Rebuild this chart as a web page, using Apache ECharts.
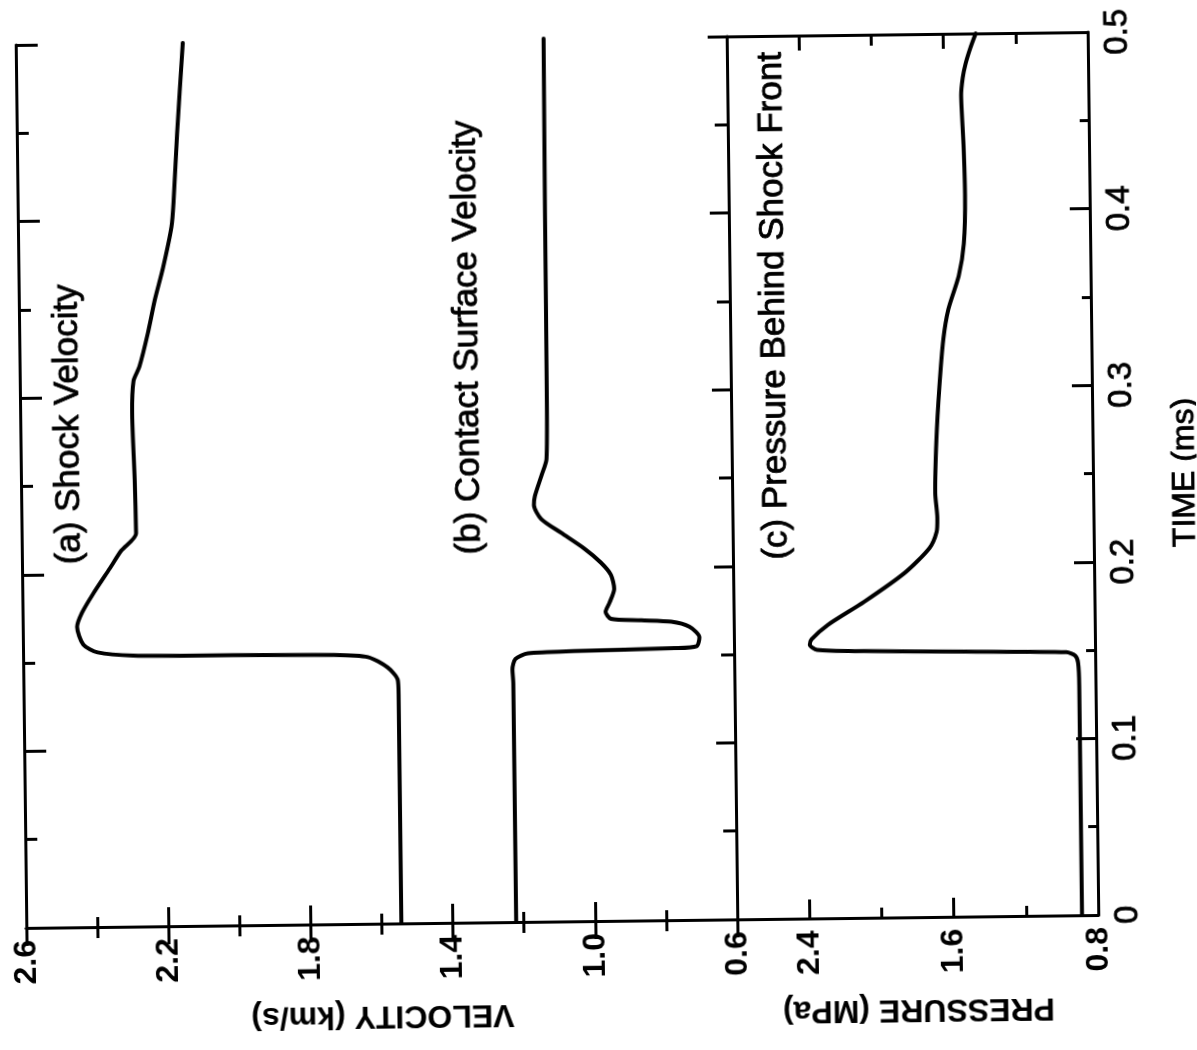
<!DOCTYPE html>
<html>
<head>
<meta charset="utf-8">
<script src="https://cdn.jsdelivr.net/npm/echarts@6/dist/echarts.min.js"></script>
<style>
  html, body { margin: 0; padding: 0; background: #fff; overflow: hidden; }
  /* the printed sheet sits a little off square */
  #chart { width: 1197px; height: 1050px; transform: rotate(-0.69deg); transform-origin: 598px 480px; }
</style>
</head>
<body>
<div id="chart"></div>
<script>
// Shock tube history: time (ms) against velocity (km/s) and pressure (MPa).
// The figure is laid out sideways: time runs up the page, values run across.

// (a) shock velocity
const shockTime = [0, 0.130, 0.138, 0.145, 0.151, 0.1525, 0.153, 0.1535, 0.1555, 0.160, 0.170, 0.178, 0.189, 0.203, 0.213, 0.2225, 0.253, 0.290, 0.309, 0.317, 0.336, 0.355, 0.373, 0.396, 0.411, 0.449, 0.500];
const shockVel  = [1.545, 1.545, 1.547, 1.575, 1.63, 1.73, 2.01, 2.29, 2.39, 2.43, 2.447, 2.433, 2.40, 2.353, 2.32, 2.278, 2.28, 2.285, 2.28, 2.263, 2.238, 2.217, 2.193, 2.168, 2.161, 2.149, 2.13];

// (b) contact surface velocity
const contactTime = [0, 0.135, 0.143, 0.149, 0.152, 0.153, 0.154, 0.155, 0.160, 0.166, 0.169, 0.170, 0.171, 0.175, 0.180, 0.188, 0.196, 0.203, 0.211, 0.220, 0.228, 0.236, 0.241, 0.253, 0.262, 0.300, 0.400, 0.500];
const contactVel  = [1.222, 1.222, 1.224, 1.215, 1.18, 1.05, 0.767, 0.705, 0.697, 0.725, 0.776, 0.86, 0.945, 0.96, 0.949, 0.935, 0.944, 0.972, 1.018, 1.082, 1.138, 1.158, 1.155, 1.135, 1.121, 1.118, 1.117, 1.115];

// (c) pressure behind the shock front
const pressTime = [0, 0.130, 0.143, 0.147, 0.149, 0.150, 0.151, 0.152, 0.155, 0.158, 0.166, 0.179, 0.195, 0.209, 0.218, 0.226, 0.240, 0.270, 0.300, 0.327, 0.344, 0.363, 0.381, 0.409, 0.437, 0.465, 0.475, 0.483, 0.492, 0.500];
const pressVal  = [0.89, 0.89, 0.895, 0.91, 0.96, 1.52, 2.08, 2.34, 2.38, 2.37, 2.28, 2.075, 1.85, 1.71, 1.67, 1.665, 1.675, 1.665, 1.645, 1.62, 1.59, 1.53, 1.50, 1.49, 1.495, 1.505, 1.495, 1.478, 1.45, 1.42];

// tick positions
const velMajor   = [0.6, 1.0, 1.4, 1.8, 2.2, 2.6];
const velMinor   = [0.8, 1.2, 1.6, 2.0, 2.4];
const pressMajor = [0.8, 1.6, 2.4];
const pressMinor = [1.2, 2.0];
const timeMajor  = [0, 0.1, 0.2, 0.3, 0.4, 0.5];
const timeMinor  = [0.05, 0.15, 0.25, 0.35, 0.45];

const zip = (vals, times) => vals.map((v, i) => [v, times[i]]);

const FONT = "'Liberation Sans', Arial, Helvetica, sans-serif";
const INK = '#000';

const frameLine = { show: true, lineStyle: { color: INK, width: 3 } };
const noLine = { show: false };

function edgeAxis(gridIndex, position, min, max, inverse, ticks, tickLen, withLine) {
  return {
    type: 'value', gridIndex, position, min, max, inverse,
    axisLine: withLine ? frameLine : noLine,
    axisTick: { show: true, inside: true, length: tickLen, customValues: ticks,
                lineStyle: { color: INK, width: 3 } },
    axisLabel: { show: false },
    splitLine: { show: false },
    minorTick: { show: false }
  };
}

function valueLabels(ticks) {
  return {
    show: true, customValues: ticks, rotate: 90, margin: 12,
    fontSize: 32, fontWeight: 'bold', fontFamily: FONT, color: INK,
    formatter: v => v.toFixed(1)
  };
}

const nameStyle = { fontSize: 32, fontWeight: 'bold', fontFamily: FONT, color: INK };

const velBottom = edgeAxis(0, 'bottom', 0.6, 2.6, true, velMajor, 19, true);
velBottom.axisLabel = valueLabels(velMajor);
Object.assign(velBottom, {
  name: 'VELOCITY (km/s)', nameLocation: 'middle', nameRotate: 180, nameGap: 76,
  nameTextStyle: nameStyle
});

const pressBottom = edgeAxis(1, 'bottom', 0.8, 2.8, true, pressMajor, 19, true);
pressBottom.axisLabel = valueLabels(pressMajor);
Object.assign(pressBottom, {
  name: 'PRESSURE (MPa)', nameLocation: 'middle', nameRotate: 180, nameGap: 76,
  nameTextStyle: nameStyle
});

const timeRight = edgeAxis(1, 'right', 0, 0.5, false, timeMajor, 20, true);
timeRight.axisLabel = {
  show: true, customValues: timeMajor, rotate: 90, margin: 13,
  fontSize: 33, fontFamily: FONT, color: INK,
  textBorderColor: INK, textBorderWidth: 0.8,
  formatter: v => (v === 0 ? '0' : v.toFixed(1))
};
Object.assign(timeRight, {
  name: 'TIME (ms)', nameLocation: 'middle', nameRotate: 90, nameGap: 76,
  nameTextStyle: { fontSize: 32, fontFamily: FONT, color: INK,
                   textBorderColor: INK, textBorderWidth: 0.8 }
});

const xAxes = [
  velBottom,                                                    // 0
  edgeAxis(0, 'bottom', 0.6, 2.6, true, velMinor, 10, false),   // 1
  edgeAxis(0, 'top', 0.6, 2.6, true, velMajor, 18, true),       // 2
  edgeAxis(0, 'top', 0.6, 2.6, true, velMinor, 11, false),      // 3
  pressBottom,                                                  // 4
  edgeAxis(1, 'bottom', 0.8, 2.8, true, pressMinor, 10, false), // 5
  edgeAxis(1, 'top', 0.8, 2.8, true, pressMajor, 15, true),     // 6
  edgeAxis(1, 'top', 0.8, 2.8, true, pressMinor, 11, false)     // 7
];

const yAxes = [
  edgeAxis(0, 'left', 0, 0.5, false, timeMajor, 22, true),      // 0
  edgeAxis(0, 'left', 0, 0.5, false, timeMinor, 12, false),     // 1
  edgeAxis(0, 'right', 0, 0.5, false, timeMajor, 19, true),     // 2
  edgeAxis(0, 'right', 0, 0.5, false, timeMinor, 13, false),    // 3
  timeRight,                                                    // 4
  edgeAxis(1, 'right', 0, 0.5, false, timeMinor, 9, false)      // 5
];

function curve(name, data, xi, yi) {
  return {
    name, type: 'line', data, xAxisIndex: xi, yAxisIndex: yi,
    showSymbol: false, symbol: 'none', smooth: 0.25,
    lineStyle: { color: INK, width: 4, cap: 'round', join: 'round' },
    z: 5
  };
}

function sideLabel(text, x, y) {
  return {
    type: 'text', x, y, rotation: Math.PI / 2, z: 10,
    style: {
      text, fill: INK, fontSize: 35, fontFamily: FONT,
      align: 'center', verticalAlign: 'middle',
      stroke: INK, lineWidth: 0.8
    }
  };
}

const chart = echarts.init(document.getElementById('chart'), null, { renderer: 'canvas' });
chart.setOption({
  backgroundColor: '#fff',
  animation: false,
  grid: [
    { left: 21, top: 38, width: 711, height: 883, outerBoundsMode: 'none', containLabel: false },
    { left: 732, top: 38, width: 361, height: 883, outerBoundsMode: 'none', containLabel: false }
  ],
  xAxis: xAxes,
  yAxis: yAxes,
  series: [
    curve('Shock Velocity', zip(shockVel, shockTime), 0, 0),
    curve('Contact Surface Velocity', zip(contactVel, contactTime), 0, 0),
    curve('Pressure Behind Shock Front', zip(pressVal, pressTime), 4, 4)
  ],
  graphic: [
    sideLabel('(a) Shock Velocity', 69, 418),
    sideLabel('(b) Contact Surface Velocity', 469, 336),
    sideLabel('(c) Pressure Behind Shock Front', 776, 308)
  ]
});
</script>
</body>
</html>
